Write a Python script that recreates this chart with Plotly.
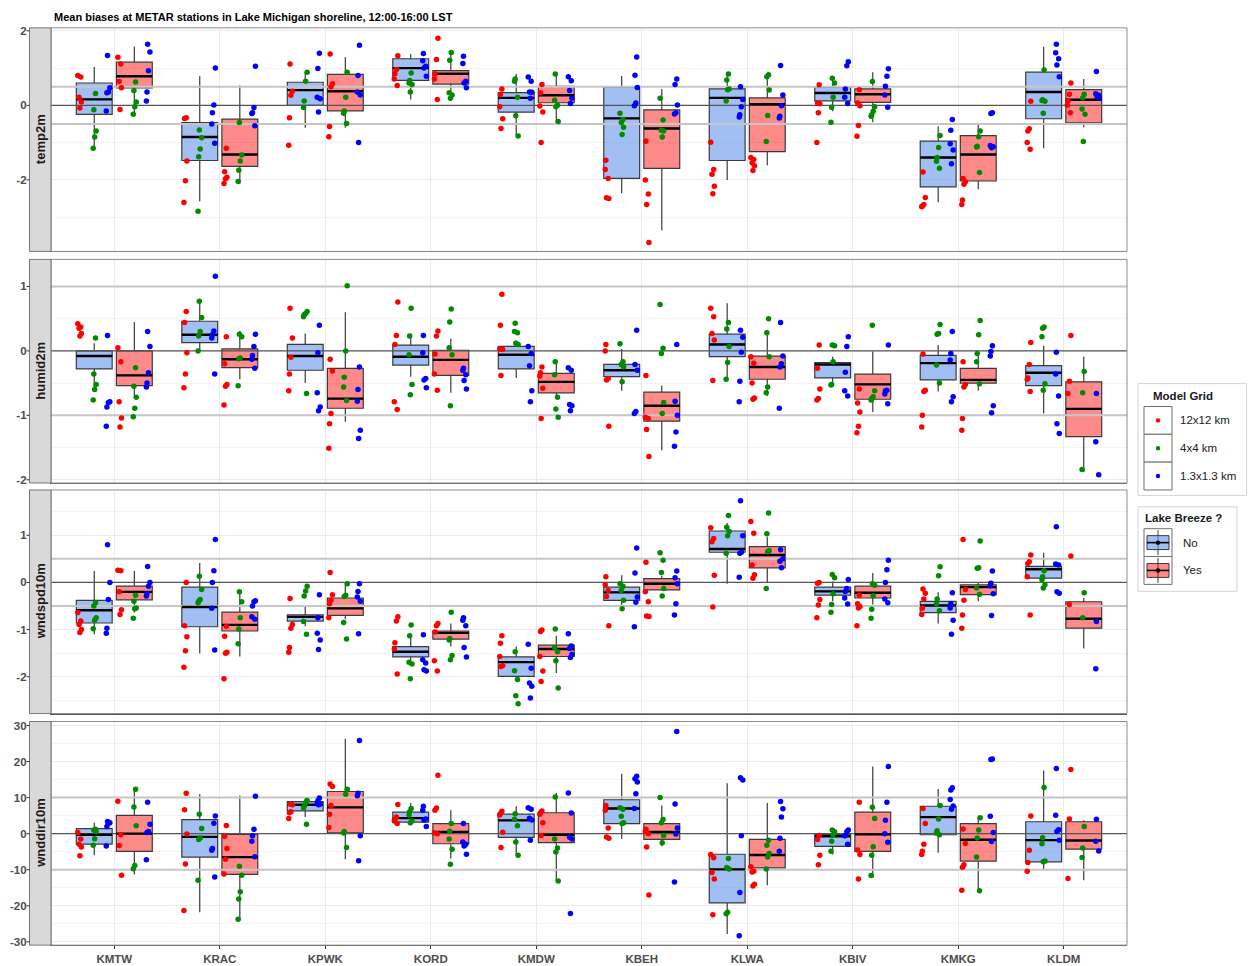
import plotly.graph_objects as go

W, H = 1248, 966

STATIONS = ["KMTW", "KRAC", "KPWK", "KORD", "KMDW", "KBEH", "KLWA", "KBIV", "KMKG", "KLDM"]
VARIABLES = ["temp2m", "humid2m", "wndspd10m", "wnddir10m"]
GRID_NAMES = ["12x12 km", "4x4 km", "1.3x1.3 km"]
BREEZE_NAMES = ["No", "Yes"]

# ---- box summaries per station: (lower whisker, q1, median, q3, upper whisker) ----
TEMP_NO_BOX = [(-1.15, -0.24, 0.16, 0.60, 1.03), (-2.57, -1.48, -0.85, -0.46, 0.78),
               (-0.60, 0.00, 0.41, 0.62, 0.89), (0.16, 0.67, 1.00, 1.25, 1.38),
               (-0.80, -0.18, 0.20, 0.34, 0.84), (-2.36, -1.96, -0.35, 0.49, 0.79),
               (-2.00, -1.48, 0.20, 0.44, 0.84), (-0.16, 0.12, 0.33, 0.49, 0.76),
               (-2.60, -2.19, -1.40, -0.96, -0.56), (-1.15, -0.36, 0.36, 0.89, 1.57)]
TEMP_YES_BOX = [(-0.24, 0.47, 0.78, 1.16, 1.58), (-2.10, -1.64, -1.32, -0.37, 0.54),
                (-0.60, -0.15, 0.38, 0.83, 1.29), (0.16, 0.57, 0.85, 0.93, 1.42),
                (-0.46, 0.07, 0.27, 0.51, 0.85), (-3.36, -1.69, -0.62, -0.12, 0.44),
                (-1.61, -1.24, 0.03, 0.20, 0.82), (-0.45, 0.08, 0.30, 0.44, 0.89),
                (-2.25, -2.03, -1.32, -0.81, -0.52), (-0.59, -0.47, 0.15, 0.42, 0.71)]
HUMID_NO_BOX = [(-0.60, -0.28, -0.08, 0.00, 0.12), (0.00, 0.13, 0.25, 0.46, 0.78),
                (-0.50, -0.30, -0.08, 0.10, 0.27), (-0.40, -0.22, -0.09, 0.09, 0.27),
                (-0.42, -0.28, -0.06, 0.07, 0.16), (-0.62, -0.40, -0.30, -0.21, 0.03),
                (-0.41, -0.09, 0.10, 0.26, 0.74), (-0.52, -0.42, -0.21, -0.18, -0.09),
                (-0.63, -0.45, -0.19, -0.07, 0.09), (-0.97, -0.54, -0.34, -0.23, 0.08)]
HUMID_YES_BOX = [(-0.70, -0.54, -0.38, 0.00, 0.45), (-0.44, -0.26, -0.13, 0.03, 0.31),
                 (-1.10, -0.89, -0.74, -0.27, 0.60), (-0.65, -0.38, -0.14, 0.01, 0.19),
                 (-0.73, -0.65, -0.48, -0.35, -0.17), (-1.54, -1.09, -0.85, -0.64, -0.54),
                 (-0.70, -0.44, -0.25, -0.08, 0.32), (-0.95, -0.75, -0.52, -0.36, -0.01),
                 (-0.62, -0.50, -0.45, -0.27, -0.03), (-1.88, -1.33, -0.90, -0.48, -0.09)]
WSPD_NO_BOX = [(-1.10, -0.86, -0.59, -0.38, 0.24), (-1.50, -0.94, -0.52, -0.10, 0.41),
               (-0.93, -0.82, -0.73, -0.69, -0.52), (-1.73, -1.58, -1.47, -1.36, -1.11),
               (-2.00, -1.99, -1.69, -1.58, -1.36), (-0.50, -0.38, -0.21, -0.10, 0.15),
               (-0.03, 0.64, 0.71, 1.09, 1.26), (-0.40, -0.27, -0.19, -0.10, 0.02),
               (-0.87, -0.64, -0.49, -0.40, -0.21), (0.09, 0.09, 0.28, 0.34, 0.63)]
WSPD_YES_BOX = [(-0.64, -0.37, -0.20, -0.08, 0.24), (-1.57, -1.03, -0.90, -0.63, -0.20),
                (-0.78, -0.70, -0.55, -0.33, -0.05), (-1.36, -1.20, -1.07, -1.03, -0.87),
                (-1.92, -1.57, -1.41, -1.33, -1.13), (-0.16, -0.16, -0.03, 0.08, 0.14),
                (0.00, 0.31, 0.58, 0.76, 0.97), (-0.47, -0.33, -0.22, -0.08, 0.20),
                (-0.40, -0.26, -0.10, -0.05, 0.00), (-1.40, -0.97, -0.77, -0.41, -0.33)]
WDIR_NO_BOX = [(-6.0, -2.9, -0.3, 1.4, 3.0), (-21.8, -6.5, -0.9, 3.9, 10.9),
               (4.6, 6.3, 8.0, 8.9, 10.1), (2.3, 3.2, 4.3, 6.0, 8.5),
               (-6.0, -1.0, 3.7, 5.4, 7.6), (-1.4, 2.8, 7.0, 9.4, 16.6),
               (-27.8, -19.2, -9.9, -5.7, 14.0), (-5.8, -3.5, -0.7, -0.2, 1.1),
               (-5.3, -0.3, 4.6, 7.6, 12.4), (-10.1, -7.8, -1.8, 3.3, 17.5)]
WDIR_YES_BOX = [(-11.3, -4.9, 0.0, 5.1, 12.9), (-23.7, -11.3, -6.5, -0.2, 10.6),
                (-7.1, 0.2, 7.3, 11.7, 26.3), (-6.9, -2.8, 0.5, 2.8, 6.5),
                (-13.1, -2.5, -0.3, 5.8, 11.3), (-3.5, -1.6, 0.5, 2.8, 7.8),
                (-14.3, -9.5, -5.9, -1.6, 8.5), (-12.2, -4.9, -0.2, 6.0, 18.6),
                (-15.7, -7.6, -1.7, 2.8, 4.6), (-12.9, -4.3, -1.9, 3.3, 3.7)]

# ---- individual biases per station, split by model grid ----
TEMP_NO_12KM = [[0.80, 0.76, 0.22, 0.09, -0.07], [-0.33, -0.35, -1.49, -2.02, -2.61],
                [1.11, 0.38, 0.27, -0.33, -1.07], [1.33, 0.96, 0.85, 0.71, 0.53],
                [0.44, 0.29, -0.04, -0.36, -0.62], [-1.47, -1.72, -1.96, -2.48, -2.50],
                [-0.99, -1.72, -1.85, -2.17, -2.37], [0.55, 0.06, 0.04, -0.20, -1.00],
                [-1.79, -2.47, -2.66, -2.70, -2.72], [0.11, -0.63, -0.69, -1.00, -1.18]]
TEMP_NO_4KM = [[0.32, -0.12, -0.69, -0.85, -1.15], [-0.66, -0.87, -1.17, -1.38, -2.84],
               [0.89, 0.65, 0.12, -0.06], [0.87, 0.67, 0.60, 0.56, 0.36],
               [0.71, 0.65, 0.22, -0.28, -0.82], [-0.21, -0.38, -0.46, -0.59, -0.78],
               [0.84, 0.68, 0.44, 0.42, 0.12], [0.73, 0.60, 0.22, -0.05, -0.45],
               [-0.81, -1.13, -1.40, -1.50, -1.69], [0.95, 0.15, 0.13, 0.11, -0.21]]
TEMP_NO_1KM = [[1.34, 0.47, 0.36, 0.34, -0.15], [1.00, 0.01, -0.20, -0.50, -1.02],
               [1.40, 0.99, 0.22, 0.18, -0.18], [1.39, 1.20, 1.05, 1.00, 0.78],
               [0.76, 0.65, 0.36, 0.35, 0.19], [1.30, 0.81, 0.48, 0.06, -0.01],
               [0.50, 0.16, -0.04, -0.25, -0.31], [1.17, 1.06, 0.44, 0.22, 0.05],
               [-0.38, -0.67, -1.03, -1.20, -1.57], [1.64, 1.41, 1.25, 1.08, 0.77]]
TEMP_YES_12KM = [[1.29, 1.11, 0.64, 0.47, -0.11], [-1.15, -1.78, -1.93, -1.97, -2.10],
                 [1.38, 0.58, 0.50, -0.57, -0.84], [1.80, 1.23, 0.84, 0.71, 0.16],
                 [0.56, 0.34, -0.02, -0.18, -1.00], [-0.96, -2.00, -2.38, -2.66, -3.68],
                 [-1.40, -1.45, -1.54, -1.62, -1.75], [0.42, 0.06, -0.01, -0.54, -0.83],
                 [-1.96, -2.05, -2.12, -2.54, -2.66], [0.60, 0.30, 0.11, 0.00, -0.20]]
TEMP_YES_4KM = [[0.63, 0.40, 0.09, -0.04, -0.24], [-0.46, -1.33, -1.49, -1.74, -2.04],
                [0.89, 0.22, -0.15, -0.21, -0.49], [1.42, 1.21, 0.34, 0.28, 0.19],
                [0.84, 0.14, 0.00, -0.04, -0.43], [0.19, -0.39, -0.67, -0.69, -0.85],
                [0.82, 0.77, 0.41, -0.27, -0.97], [0.64, -0.04, -0.16, -0.25, -0.29],
                [-0.69, -0.84, -1.10, -1.12, -1.80], [0.30, 0.20, -0.10, -0.24, -0.97]]
TEMP_YES_1KM = [[1.64, 1.43, 0.93, 0.36, 0.12], [1.05, -0.06, -0.20, -0.22, -0.55],
                [1.61, 0.80, 0.36, 0.28, -1.00], [1.32, 1.12, 0.65, 0.60, 0.47],
                [0.77, 0.66, 0.40, 0.19, 0.05], [0.71, 0.56, 0.01, -0.20, -0.23],
                [1.07, 0.28, -0.01, -0.29, -0.34], [0.98, 0.78, 0.51, 0.28, -0.05],
                [-0.20, -0.22, -1.08, -1.11, -1.14], [0.91, 0.31, 0.27, 0.24, 0.20]]

HUMID_NO_12KM = [[0.42, 0.37, 0.35, 0.27, 0.23], [0.61, 0.44, -0.03, -0.36, -0.57],
                 [0.66, 0.20, -0.10, -0.36, -0.62], [0.76, 0.24, 0.10, -0.79, -0.91],
                 [0.88, 0.40, 0.03, 0.02, -0.38], [0.10, 0.00, -0.43, -0.45, -1.17],
                 [0.66, 0.53, 0.27, 0.17, -0.46], [0.09, -0.27, -0.59, -0.74, -0.76],
                 [-0.05, -0.61, -0.63, -1.00, -1.18], [0.13, -0.21, -0.42, -0.44, -0.63]]
HUMID_NO_4KM = [[0.20, -0.36, -0.52, -0.60, -0.76], [0.77, 0.52, 0.30, 0.23, 0.00],
                [0.61, 0.58, 0.56, 0.53, -0.66], [0.66, 0.23, -0.06, -0.52, -0.68],
                [0.43, 0.30, 0.28, 0.12, 0.10], [0.11, -0.17, -0.21, -0.25, -0.48],
                [0.44, 0.34, 0.07, -0.18, -0.44], [0.09, 0.08, -0.17, -0.52, -0.53],
                [0.41, 0.27, 0.26, -0.22, -0.50], [0.37, 0.35, 0.22, -0.51, -0.61]]
HUMID_NO_1KM = [[0.24, -0.79, -0.80, -0.87, -1.17], [1.16, 0.31, 0.25, 0.20, -0.36],
                [0.40, -0.03, -0.65, -0.87, -0.93], [0.24, -0.03, -0.43, -0.45, -0.57],
                [0.07, -0.04, -0.23, -0.62, -0.79], [0.32, -0.21, -0.30, -0.94, -0.97],
                [0.32, 0.21, -0.02, -0.47, -0.79], [0.22, 0.07, -0.33, -0.62, -0.70],
                [0.30, -0.04, -0.14, -0.71, -0.79], [-0.02, -0.36, -0.70, -1.13, -1.28]]
HUMID_YES_12KM = [[0.05, -0.17, -0.79, -1.04, -1.18], [0.22, -0.20, -0.52, -0.55, -0.84],
                  [-0.13, -0.31, -0.97, -1.13, -1.51], [0.31, 0.23, -0.05, -0.36, -0.61],
                  [-0.25, -0.34, -0.39, -0.58, -1.05], [-0.38, -1.03, -1.05, -1.22, -1.64],
                  [-0.09, -0.19, -0.50, -0.73, -0.75], [-0.59, -0.81, -0.95, -1.17, -1.27],
                  [-0.17, -0.52, -0.56, -1.05, -1.23], [0.24, -0.47, -0.66]]
HUMID_YES_4KM = [[-0.26, -0.55, -0.72, -0.89, -1.02], [0.26, 0.22, -0.11, -0.12, -0.54],
                 [1.01, 0.00, -0.41, -0.56, -0.77], [0.65, 0.45, 0.05, -0.06, -0.85],
                 [-0.17, -0.37, -0.72, -0.90, -1.03], [0.72, 0.04, -0.04, -0.80, -0.97],
                 [0.50, 0.28, -0.09, -0.56, -0.65], [0.40, -0.62, -0.71, -0.74, -0.76],
                 [0.47, 0.25, -0.04, -0.17, -0.51], [-0.32, -0.65, -1.84]]
HUMID_YES_1KM = [[0.30, 0.07, -0.34, -0.50, -0.56], [0.26, 0.07, -0.07, -0.13, -0.27],
                 [-0.25, -0.60, -0.78, -1.23, -1.36], [-0.27, -0.30, -0.37, -0.46, -0.59],
                 [-0.26, -0.30, -0.83, -0.85, -0.93], [0.10, -0.78, -1.00, -1.26, -1.48],
                 [0.44, -0.08, -0.20, -0.25, -0.89], [0.09, -0.61, -0.62, -0.67, -0.82],
                 [0.08, -0.01, -0.08, -0.85, -0.96], [-0.66, -1.41, -1.92]]

WSPD_NO_12KM = [[-0.64, -0.82, -0.89, -1.00, -1.06], [0.00, -0.92, -1.15, -1.45, -1.80],
                [-0.34, -0.89, -0.97, -1.38, -1.48], [-0.73, -0.82, -1.28, -1.41, -1.94],
                [-1.13, -1.29, -1.57, -1.76, -1.78], [0.12, -0.05, -0.17, -0.30, -0.92],
                [1.16, 0.93, 0.86, 0.15, -0.52], [0.00, -0.02, -0.36, -0.48, -0.75],
                [-0.14, -0.23, -0.35, -0.55, -0.68], [0.58, 0.44, 0.40, 0.12, -0.69]]
WSPD_NO_4KM = [[-0.43, -0.50, -0.75, -0.80, -0.98], [0.13, -0.15, -0.36, -0.40, -0.43],
               [-0.08, -0.18, -0.29, -0.83, -1.10], [-0.90, -1.13, -1.69, -1.73, -2.04],
               [-1.47, -1.87, -2.06, -2.40, -2.57], [-0.03, -0.08, -0.17, -0.38, -0.56],
               [1.42, 1.17, 1.08, 0.99, 0.62], [0.17, 0.10, -0.24, -0.47, -0.63],
               [0.33, 0.14, -0.35, -0.45, -0.60], [0.25, 0.12, 0.06, -0.05, -0.12]]
WSPD_NO_1KM = [[0.80, 0.00, -0.36, -0.97, -1.08], [0.91, 0.25, 0.00, -0.55, -1.43],
               [-0.26, -0.75, -1.08, -1.22, -1.42], [-1.11, -1.64, -1.71, -1.85, -1.88],
               [-1.31, -1.82, -2.13, -2.20, -2.45], [0.73, 0.20, -0.31, -0.42, -0.94],
               [1.73, 0.99, 0.64, 0.62, 0.11], [0.06, -0.13, -0.19, -0.33, -0.46],
               [-0.22, -0.45, -0.54, -0.80, -1.10], [1.18, 0.39, 0.37, -0.20, -0.23]]
WSPD_YES_12KM = [[0.26, 0.25, -0.20, -0.58, -0.68], [-0.93, -1.14, -1.48, -1.50, -2.04],
                 [0.21, -0.26, -0.38, -0.45, -0.75], [-0.87, -0.92, -1.05, -1.66, -1.88],
                 [-1.01, -1.04, -1.57, -1.88, -2.10], [0.43, -0.20, -0.41, -0.71, -0.72],
                 [1.29, 1.04, 0.37, 0.16, 0.09], [-0.27, -0.45, -0.51, -0.54, -0.92],
                 [0.91, -0.15, -0.38, -0.69, -0.97], [0.56, -0.47]]
WSPD_YES_4KM = [[-0.27, -0.40, -0.54, -0.56, -0.76], [-0.20, -0.41, -0.75, -0.99, -1.30],
                [-0.03, -0.27, -0.30, -0.85, -1.20], [-0.63, -1.19, -1.22, -1.55, -1.64],
                [-0.99, -1.38, -1.47, -1.66, -2.24], [0.63, 0.47, 0.21, -0.13, -0.29],
                [1.47, 1.03, 0.67, 0.65, -0.13], [-0.03, -0.06, -0.28, -0.57, -0.76],
                [0.88, 0.31, 0.30, -0.12, -0.25], [-0.22, -0.75]]
WSPD_YES_1KM = [[0.34, 0.00, -0.08, -0.24, -0.29], [-0.39, -0.41, -0.50, -0.73, -0.78],
                [-0.03, -0.19, -0.31, -0.40, -1.09], [-0.75, -0.80, -0.92, -1.38, -1.58],
                [-1.09, -1.35, -1.40, -1.53, -1.59], [0.24, 0.10, -0.03, -0.45, -0.69],
                [0.69, 0.50, 0.31, 0.45], [0.47, 0.27, 0.00, -0.35, -0.43],
                [0.24, -0.02, -0.07, -0.24, -0.70], [-0.83, -1.83]]

WDIR_NO_12KM = [[0.3, -1.5, -2.9, -3.7, -6.1], [11.2, 6.6, -0.1, -8.4, -21.3],
                [8.2, 8.0, 6.1, 5.8, 4.2], [8.1, 4.6, 4.1, 3.5, 2.8],
                [6.2, 5.6, 5.2, 0.4, -3.8], [7.8, 6.5, 1.6, -0.9, -1.3],
                [-5.8, -6.7, -10.8, -12.6, -22.5], [-0.5, -1.6, -6.0, -8.6],
                [7.0, 2.8, -2.9, -4.9, -5.8], [4.9, -4.6, -8.0, -10.4]]
WDIR_NO_4KM = [[1.2, 1.0, 0.6, -1.4, -3.2], [5.4, 1.4, -1.2, -1.6, -12.9],
               [9.2, 8.6, 7.6, 7.2, 2.6], [7.0, 6.1, 5.2, 3.5, 3.0],
               [5.5, 4.0, 2.2, -2.3, -6.0], [7.2, 6.8, 4.8, 3.0, 2.8],
               [-6.9, -9.4, -9.8, -21.8, -22.2], [1.0, 0.5, -0.3, -2.1, -4.9],
               [7.8, 4.1, 0.8, 0.2, -0.3], [12.8, -1.1, -2.8, -7.6, -7.8]]
WDIR_NO_1KM = [[3.4, 3.0, 2.8, 2.0, -3.4], [4.9, 2.9, -4.1, -4.6, -12.0],
               [9.9, 9.1, 8.6, 8.2, 8.0], [7.6, 6.5, 4.1, 3.8, 2.0],
               [7.2, 6.8, 4.3, 3.8, -1.8], [15.9, 15.2, 14.3, 11.1, 7.0],
               [15.5, 14.9, -0.6, -16.3, -28.3], [1.0, 0.5, -0.5, -0.6, -2.9],
               [12.7, 12.1, 9.5, 7.7, 6.8], [18.1, 5.1, 1.1, 0.6, -1.8]]
WDIR_YES_12KM = [[9.0, -0.3, -3.3, -11.5], [2.3, -0.7, -4.1, -7.1, -11.2],
                 [13.8, 13.1, 7.8, 5.4, 1.7], [16.2, 7.1, 6.5, 0.2, 0.0],
                 [6.3, 5.8, 5.4, 3.0, -0.5], [1.2, 0.7, 0.0, -3.7, -17.0],
                 [-9.2, -10.4, -10.6, -14.0, -14.5], [8.7, -4.5, -5.8, -12.6],
                 [1.3, -2.7, -8.6, -9.3, -15.7], [17.8, 4.1, -12.4]]
WDIR_YES_4KM = [[12.3, 7.4, 2.2, -8.8, -9.7], [-9.0, -11.5, -16.1, -18.1, -23.7],
                [12.3, 10.9, 0.6, 0.2, -3.8], [2.8, 0.7, -1.5, -4.3, -8.5],
                [10.2, -1.5, -4.0, -5.1, -13.1], [10.0, 3.9, 3.0, -0.5, -2.5],
                [-1.8, -3.2, -5.5, -6.5, -9.8], [7.3, 4.2, -3.6, -6.0, -11.6],
                [4.4, 1.0, -1.2, -6.5, -15.8], [2.0, -4.0, -6.6]]
WDIR_YES_1KM = [[8.7, 2.6, 0.6, 0.3, -7.2], [10.4, 1.2, -0.6, -2.1, -6.4],
                [25.8, 11.2, 10.5, -0.6, -7.5], [2.8, -2.3, -2.9, -3.4, -5.7],
                [11.3, 5.7, -1.0, -1.5, -22.1], [28.3, 8.2, 1.6, -0.1, -13.4],
                [8.9, 6.9, 4.6, -1.3, -4.9], [18.6, 8.7, 3.7, 0.0, -2.4],
                [20.7, 20.6, 4.8, 0.3, -2.2], [4.0, -2.1, -4.8]]

# ---- axis setup per panel ----
Y_RANGES = [(-3.92, 2.08), (-2.05, 1.42), (-2.78, 1.96), (-30.9, 31.1)]
Y_TICKS = [[-2, 0, 2], [-2, -1, 0, 1], [-2, -1, 0, 1], [-30, -20, -10, 0, 10, 20, 30]]
Y_MINOR = [[-3, -1, 1], [-1.5, -0.5, 0.5], [-2.5, -1.5, -0.5, 0.5, 1.5],
           [-25, -15, -5, 5, 15, 25]]
REF_LINES = [[-0.5, 0.5], [-1, 1], [-0.5, 0.5], [-10, 10]]
X_RANGE = (0.4, 10.6)

BOXES = {
    "temp2m": (TEMP_NO_BOX, TEMP_YES_BOX),
    "humid2m": (HUMID_NO_BOX, HUMID_YES_BOX),
    "wndspd10m": (WSPD_NO_BOX, WSPD_YES_BOX),
    "wnddir10m": (WDIR_NO_BOX, WDIR_YES_BOX),
}
POINTS = {
    "temp2m": ((TEMP_NO_12KM, TEMP_NO_4KM, TEMP_NO_1KM), (TEMP_YES_12KM, TEMP_YES_4KM, TEMP_YES_1KM)),
    "humid2m": ((HUMID_NO_12KM, HUMID_NO_4KM, HUMID_NO_1KM), (HUMID_YES_12KM, HUMID_YES_4KM, HUMID_YES_1KM)),
    "wndspd10m": ((WSPD_NO_12KM, WSPD_NO_4KM, WSPD_NO_1KM), (WSPD_YES_12KM, WSPD_YES_4KM, WSPD_YES_1KM)),
    "wnddir10m": ((WDIR_NO_12KM, WDIR_NO_4KM, WDIR_NO_1KM), (WDIR_YES_12KM, WDIR_YES_4KM, WDIR_YES_1KM)),
}

# ---- styling ----
FONT = "Liberation Sans"
BOX_FILL = ["rgba(100,149,237,0.6)", "rgba(255,0,0,0.46)"]
GRID_COLORS = ["#ff0000", "#008b00", "#0000ff"]
DODGE = [-0.19, 0.19]            # No / Yes position inside a station slot
BOX_W = 0.34
GRID_SHIFT = [-0.14, 0.0, 0.13]  # 12 km / 4 km / 1.3 km within a box
JITTER = [-0.016, 0.012, -0.004, 0.018, 0.004, -0.01]

PLOT_LEFT, PLOT_RIGHT = 51, 1127
PANEL_PX = [(25, 250), (258, 483), (490, 715), (723, 948)]


def fx(px):
    return px / W


def fy(py):
    return 1 - py / H


def fmt(v):
    return str(v)


fig = go.Figure()
shapes = []
annotations = []
layout_axes = {}

for p, var in enumerate(VARIABLES):
    k = p + 1
    xa = "x" if k == 1 else f"x{k}"
    ya = "y" if k == 1 else f"y{k}"
    top, bot = PANEL_PX[p]
    last = (p == len(VARIABLES) - 1)

    layout_axes["xaxis" if k == 1 else f"xaxis{k}"] = dict(
        domain=[fx(PLOT_LEFT), fx(PLOT_RIGHT)], range=list(X_RANGE), anchor=ya,
        tickmode="array", tickvals=list(range(1, 11)), ticktext=STATIONS,
        showticklabels=last, ticks="outside" if last else "", ticklen=3,
        tickcolor="#333333", tickwidth=1,
        tickfont=dict(family=FONT, size=11.5, color="#4d4d4d", weight="bold"),
        showgrid=True, gridcolor="#ebebeb", gridwidth=1,
        showline=True, linecolor="#555555", linewidth=1.2, mirror=False,
        zeroline=False, fixedrange=True,
    )
    layout_axes["yaxis" if k == 1 else f"yaxis{k}"] = dict(
        domain=[fy(bot), fy(top)], range=list(Y_RANGES[p]), anchor=xa,
        tickmode="array", tickvals=Y_TICKS[p], ticktext=[fmt(v) for v in Y_TICKS[p]],
        ticks="", ticklabelstandoff=21,
        tickfont=dict(family=FONT, size=11.5, color="#4d4d4d", weight="bold"),
        showgrid=True, gridcolor="#ebebeb", gridwidth=1,
        minor=dict(tickmode="array", tickvals=Y_MINOR[p], showgrid=True,
                   gridcolor="#f3f3f3", gridwidth=0.7, ticks=""),
        showline=True, linecolor="#555555", linewidth=1.2, mirror=False,
        zeroline=False, fixedrange=True,
    )

    # reference lines, drawn first so boxes sit over them
    for v in REF_LINES[p]:
        fig.add_trace(go.Scatter(x=list(X_RANGE), y=[v, v], mode="lines",
                                 line=dict(color="#c6c6c6", width=2),
                                 xaxis=xa, yaxis=ya, showlegend=False, hoverinfo="skip"))
    fig.add_trace(go.Scatter(x=list(X_RANGE), y=[0, 0], mode="lines",
                             line=dict(color="#555555", width=1.4),
                             xaxis=xa, yaxis=ya, showlegend=False, hoverinfo="skip"))

    # boxes
    for b in range(2):
        stats = BOXES[var][b]
        xs = [i + 1 + DODGE[b] for i in range(len(STATIONS))]
        fig.add_trace(go.Box(
            x=xs,
            lowerfence=[s[0] for s in stats], q1=[s[1] for s in stats],
            median=[s[2] for s in stats], q3=[s[3] for s in stats],
            upperfence=[s[4] for s in stats],
            width=BOX_W, whiskerwidth=0, boxpoints=False,
            fillcolor=BOX_FILL[b], line=dict(color="#3a3a3a", width=1.2),
            xaxis=xa, yaxis=ya, showlegend=False, hoverinfo="skip",
        ))
        mx, my = [], []
        for x, s in zip(xs, stats):
            mx += [x - BOX_W / 2, x + BOX_W / 2, None]
            my += [s[2], s[2], None]
        fig.add_trace(go.Scatter(x=mx, y=my, mode="lines", line=dict(color="#000000", width=2.4),
                                 xaxis=xa, yaxis=ya, showlegend=False, hoverinfo="skip"))

    # points per model grid
    for g in range(3):
        px_, py_ = [], []
        for b in range(2):
            series = POINTS[var][b][g]
            for i, vals in enumerate(series):
                for j, v in enumerate(vals):
                    px_.append(i + 1 + DODGE[b] + GRID_SHIFT[g] + JITTER[(i + j + g) % len(JITTER)])
                    py_.append(v)
        fig.add_trace(go.Scatter(x=px_, y=py_, mode="markers",
                                 marker=dict(color=GRID_COLORS[g], size=5.5, line=dict(width=0)),
                                 xaxis=xa, yaxis=ya, showlegend=False, hoverinfo="skip"))

    # panel frame
    shapes.append(dict(type="rect", xref="paper", yref="paper",
                       x0=fx(PLOT_LEFT), x1=fx(PLOT_RIGHT), y0=fy(bot), y1=fy(top),
                       line=dict(color="#8c8c8c", width=1), fillcolor="rgba(0,0,0,0)", layer="above"))
    # strip on the left
    shapes.append(dict(type="rect", xref="paper", yref="paper", x0=fx(29.5), x1=fx(51),
                       y0=fy(bot), y1=fy(top),
                       line=dict(color="#5a5a5a", width=0.8), fillcolor="#d9d9d9", layer="above"))
    annotations.append(dict(text=f"<b>{var}</b>", xref="paper", yref="paper", x=fx(40.5),
                            y=fy((top + bot) / 2),
                            textangle=-90, showarrow=False, xanchor="center", yanchor="middle",
                            font=dict(family=FONT, size=13, color="#1a1a1a")))
    # y tick marks sit outside the strip
    for v in Y_TICKS[p]:
        shapes.append(dict(type="line", xref="paper", yref=ya, x0=fx(26.5), x1=fx(29.5), y0=v, y1=v,
                           line=dict(color="#333333", width=1), layer="above"))

# ---- title ----
annotations.append(dict(text="<b>Mean biases at METAR stations in Lake Michigan shoreline, 12:00-16:00 LST</b>",
                        xref="paper", yref="paper", x=fx(52), y=fy(14), xanchor="left", yanchor="middle",
                        showarrow=False, font=dict(family=FONT, size=11, color="#000000")))


# ---- legends ----
def rect_px(x0, y0, x1, y1, **kw):
    d = dict(type="rect", xref="paper", yref="paper", x0=fx(x0), x1=fx(x1), y0=fy(y1), y1=fy(y0), layer="above")
    d.update(kw)
    return d


def text_px(txt, x, y, size=11.5, bold=False, anchor="left"):
    return dict(text=f"<b>{txt}</b>" if bold else txt, xref="paper", yref="paper", x=fx(x), y=fy(y),
                xanchor=anchor, yanchor="middle", showarrow=False,
                font=dict(family=FONT, size=size, color="#1a1a1a"))


shapes.append(rect_px(1138, 383, 1246.5, 495.5, line=dict(color="#d4d4d4", width=1), fillcolor="#ffffff"))
annotations.append(text_px("Model Grid", 1151, 395, size=11.5, bold=True))
for g, name in enumerate(GRID_NAMES):
    ky = 406 + 28 * g
    shapes.append(rect_px(1144, ky, 1172, ky + 28, line=dict(color="#6e6e6e", width=1), fillcolor="#ffffff"))
    cx, cy = 1158, ky + 14
    shapes.append(dict(type="circle", xref="paper", yref="paper", x0=fx(cx - 2.2), x1=fx(cx + 2.2),
                       y0=fy(cy + 2.2), y1=fy(cy - 2.2), fillcolor=GRID_COLORS[g],
                       line=dict(width=0), layer="above"))
    annotations.append(text_px(name, 1178, cy, size=11.5))

shapes.append(rect_px(1138, 507, 1237, 592, line=dict(color="#d4d4d4", width=1), fillcolor="#ffffff"))
annotations.append(text_px("Lake Breeze ?", 1143, 518, size=11.5, bold=True))
for b, name in enumerate(BREEZE_NAMES):
    ky = 529 + 28 * b
    shapes.append(rect_px(1144, ky, 1172, ky + 28, line=dict(color="#6e6e6e", width=1), fillcolor="#ffffff"))
    cy = ky + 14
    shapes.append(dict(type="line", xref="paper", yref="paper", x0=fx(1158), x1=fx(1158),
                       y0=fy(ky + 1.5), y1=fy(ky + 26.5), line=dict(color="#3a3a3a", width=1), layer="above"))
    shapes.append(rect_px(1147, cy - 7, 1169, cy + 7, line=dict(color="#3a3a3a", width=1),
                          fillcolor=BOX_FILL[b]))
    shapes.append(dict(type="line", xref="paper", yref="paper", x0=fx(1147), x1=fx(1169),
                       y0=fy(cy), y1=fy(cy), line=dict(color="#000000", width=1.6), layer="above"))
    shapes.append(dict(type="circle", xref="paper", yref="paper", x0=fx(1158 - 2.2), x1=fx(1158 + 2.2),
                       y0=fy(cy + 2.2), y1=fy(cy - 2.2), fillcolor="#000000",
                       line=dict(width=0), layer="above"))
    annotations.append(text_px(name, 1181, cy, size=11.5))

fig.update_layout(
    width=W, height=H, margin=dict(l=0, r=0, t=0, b=0),
    paper_bgcolor="#ffffff", plot_bgcolor="#ffffff",
    showlegend=False, boxmode="overlay",
    shapes=shapes, annotations=annotations,
    font=dict(family=FONT),
    **layout_axes,
)

fig.write_html("out.html")
